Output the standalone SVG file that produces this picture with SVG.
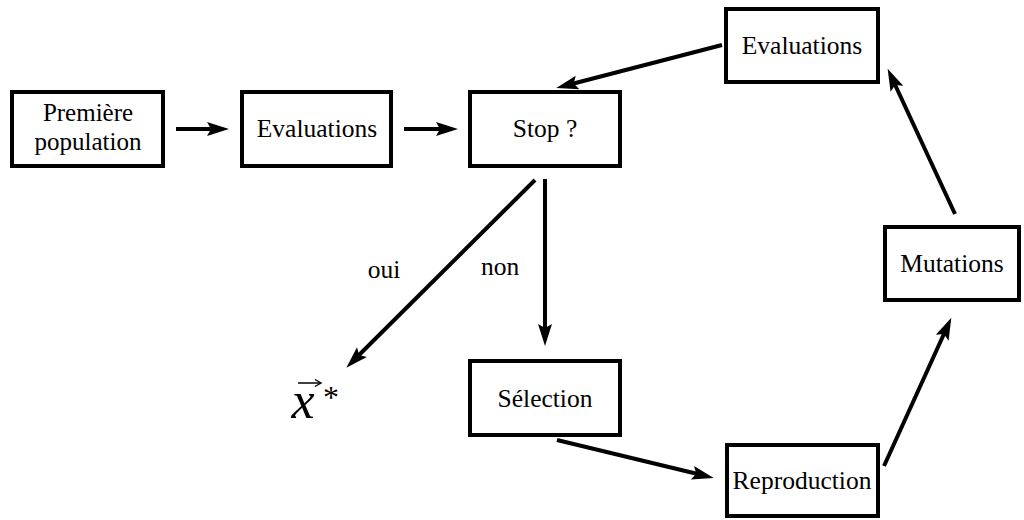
<svg xmlns="http://www.w3.org/2000/svg" width="1024" height="520" viewBox="0 0 1024 520">
<style>
.box{fill:#fff;stroke:#000;stroke-width:4}
.c{stroke:#000;stroke-width:4;fill:none;marker-end:url(#ah)}
</style>
<defs>
<marker id="ah" markerUnits="userSpaceOnUse" markerWidth="26" markerHeight="20" refX="14" refY="10" orient="auto" overflow="visible">
<path d="M0,3 L22,10 L0,17 L4,10 Z" fill="#000"/>
</marker>
<marker id="vh" markerUnits="userSpaceOnUse" markerWidth="10" markerHeight="10" refX="6" refY="5" orient="auto">
<path d="M1,1.5 L7,5 L1,8.5" fill="none" stroke="#000" stroke-width="1.4"/>
</marker>
</defs>
<rect width="1024" height="520" fill="#fff"/>
<g id="connectors">
<line class="c" x1="176" y1="129" x2="221" y2="129"/>
<line class="c" x1="404" y1="129" x2="450" y2="129"/>
<line class="c" x1="722" y1="45" x2="564" y2="86"/>
<line class="c" x1="955" y1="214" x2="891" y2="76"/>
<line class="c" x1="884" y1="466" x2="948" y2="325"/>
<line class="c" x1="557" y1="440" x2="706" y2="476"/>
<line class="c" x1="545" y1="179" x2="545" y2="338"/>
<line class="c" x1="535" y1="180" x2="352" y2="362"/>
</g>
<g font-family="Liberation Serif" font-size="25.5" text-anchor="middle" fill="#000">
<g id="n1"><rect class="box" x="12" y="92" width="151" height="74"/><text x="88" y="121" font-size="25">Première</text><text x="88" y="150" font-size="25">population</text></g>
<g id="n2"><rect class="box" x="242" y="92" width="149" height="74"/><text x="317" y="137">Evaluations</text></g>
<g id="n3"><rect class="box" x="470" y="92" width="150" height="74"/><text x="545" y="137">Stop ?</text></g>
<g id="n4"><rect class="box" x="726" y="9" width="152" height="73"/><text x="802" y="54">Evaluations</text></g>
<g id="n5"><rect class="box" x="885" y="227" width="134" height="73"/><text x="952" y="272">Mutations</text></g>
<g id="n6"><rect class="box" x="470" y="361" width="150" height="74"/><text x="545" y="407">Sélection</text></g>
<g id="n7"><rect class="box" x="727" y="445" width="151" height="71"/><text x="802" y="489">Reproduction</text></g>
<g id="labels">
<text x="384" y="278">oui</text>
<text x="500" y="275">non</text>
<text x="303" y="418" font-style="italic" font-size="52">x</text>
<text x="331" y="408" font-size="32">*</text>
<line x1="298" y1="383" x2="320" y2="383" stroke="#000" stroke-width="1.5" marker-end="url(#vh)"/>
</g>
</g>
</svg>
